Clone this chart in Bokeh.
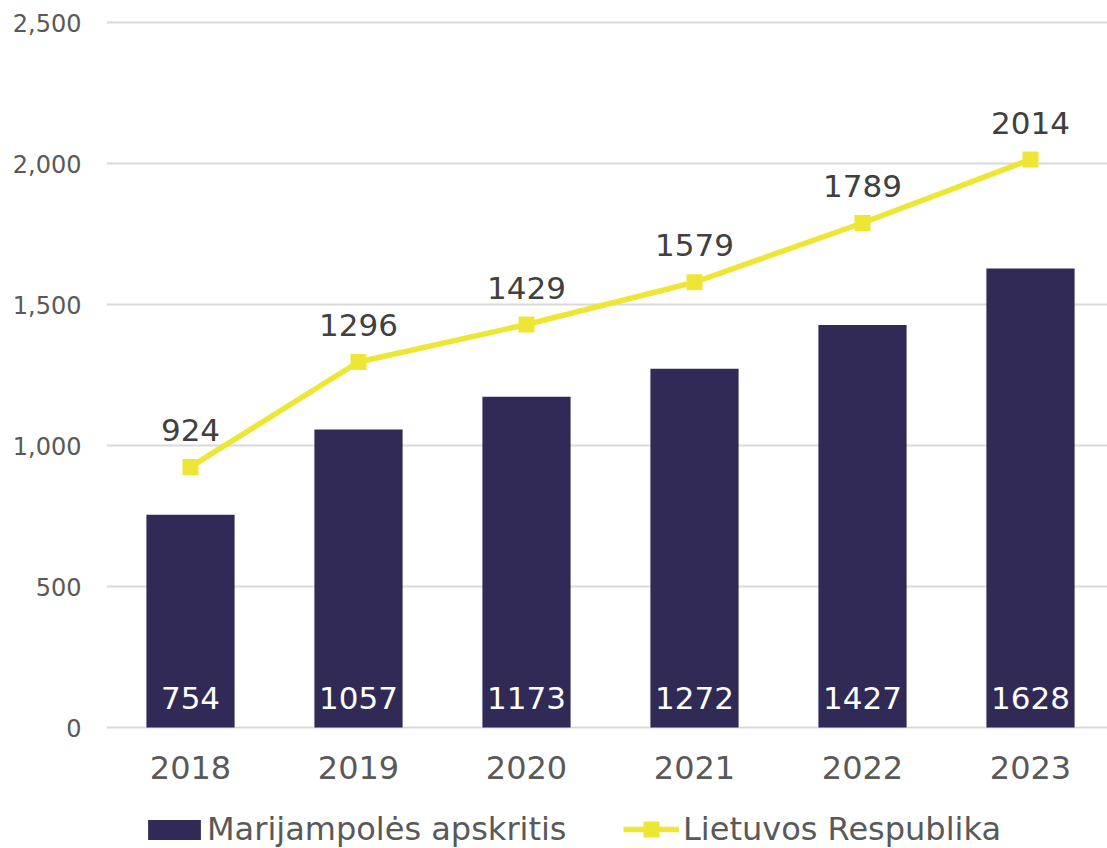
from bokeh.plotting import figure
from bokeh.models import ColumnDataSource, Range1d, FixedTicker, Legend, LegendItem, NumeralTickFormatter
from bokeh.core.properties import value
from bokeh.embed import file_html
from bokeh.resources import INLINE

years = ["2018", "2019", "2020", "2021", "2022", "2023"]
region = [754, 1057, 1173, 1272, 1427, 1628]
country = [924, 1296, 1429, 1579, 1789, 2014]
y_ticks = [0, 500, 1000, 1500, 2000, 2500]
series_names = ["Marijampolės apskritis", "Lietuvos Respublika"]

BAR = "#312A57"
LINE = "#EDE634"
FONT = "DejaVu Sans"

W, H = 1107, 848
LEFT, TOP, ZERO = 106, 20, 727
FW = W - LEFT
FH = H - TOP
PX_PER_UNIT = 705 / 2500
Y0 = -(H - ZERO) / PX_PER_UNIT
Y1 = (ZERO - TOP) / PX_PER_UNIT

xs = list(range(len(years)))
src = ColumnDataSource(dict(x=xs, region=region, country=country,
                            rl=[str(v) for v in region], cl=[str(v) for v in country]))

p = figure(frame_width=FW, frame_height=FH, output_backend="svg", toolbar_location=None,
           x_range=Range1d(-0.5, -0.5 + FW / 168), y_range=Range1d(Y0, Y1),
           min_border_left=LEFT, min_border_right=0, min_border_top=TOP, min_border_bottom=0)
p.outline_line_color = None
p.background_fill_color = "white"
p.border_fill_color = "white"

bars = p.vbar(x="x", top="region", width=0.525, source=src, fill_color=BAR, line_color=None)
ln = p.line(x="x", y="country", source=src, line_color=LINE, line_width=5.5)
sc = p.scatter(x="x", y="country", source=src, marker="square", size=16, fill_color=LINE, line_color=None)

p.text(x="x", y=0, text="rl", source=src, text_color="white", text_font=value(FONT),
       text_font_size="31px", text_align="center", text_baseline="bottom", y_offset=-19)
p.text(x="x", y="country", text="cl", source=src, text_color="#404040", text_font=value(FONT),
       text_font_size="31px", text_align="center", text_baseline="bottom", y_offset=-26)

p.xgrid.grid_line_color = None
p.ygrid.grid_line_color = "#D9D9D9"
p.ygrid.grid_line_width = 2
p.ygrid.ticker = FixedTicker(ticks=y_ticks)

p.yaxis.ticker = FixedTicker(ticks=y_ticks)
p.yaxis.formatter = NumeralTickFormatter(format="0,0")
p.yaxis.axis_line_color = None
p.yaxis.major_tick_line_color = None
p.yaxis.minor_tick_line_color = None
p.yaxis.major_label_text_font = FONT
p.yaxis.major_label_text_font_size = "24px"
p.yaxis.major_label_text_color = "#595959"
p.yaxis.major_label_standoff = 19

p.xaxis.ticker = FixedTicker(ticks=xs)
p.xaxis.fixed_location = 0
p.xaxis.major_label_overrides = {i: y for i, y in zip(xs, years)}
p.xaxis.axis_line_color = None
p.xaxis.major_tick_line_color = None
p.xaxis.minor_tick_line_color = None
p.xaxis.major_label_text_font = FONT
p.xaxis.major_label_text_font_size = "32px"
p.xaxis.major_label_text_color = "#595959"
p.xaxis.major_label_standoff = 22

common = dict(orientation="horizontal", label_text_font=FONT, label_text_font_size="32px",
              label_text_color="#595959", label_height=40, padding=0, margin=0,
              border_line_color=None, background_fill_alpha=0)

leg1 = Legend(items=[LegendItem(label=series_names[0], renderers=[bars])],
              location=(35, -1), glyph_width=66, glyph_height=25, label_standoff=0, **common)
leg2 = Legend(items=[LegendItem(label=series_names[1], renderers=[ln, sc])],
              location=(517, -1), glyph_width=56, glyph_height=40, label_standoff=4, **common)
p.add_layout(leg1, "center")
p.add_layout(leg2, "center")

open("out.html", "w").write(file_html(p, INLINE))
